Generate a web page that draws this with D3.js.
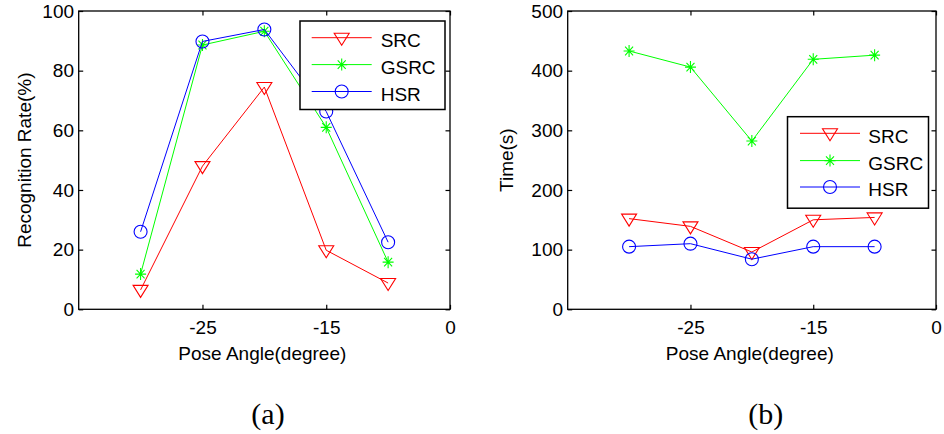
<!DOCTYPE html>
<html>
<head>
<meta charset="utf-8">
<script src="https://cdn.jsdelivr.net/npm/d3@7"></script>
<style>
  html, body { margin: 0; padding: 0; background: #fff; }
  svg { display: block; }
  text { fill: #000; }
</style>
</head>
<body>
<svg id="chart" width="944" height="434"></svg>
<script>
// ---- data ----
const seriesNames = ["SRC", "GSRC", "HSR"];
const seriesColors = ["#ff0000", "#00ff00", "#0000ff"];
const seriesMarkers = ["triangle", "star", "circle"];
const pointIndex = [1, 2, 3, 4, 5];            // sample positions on the x axis
const xTickPositions = [2, 4, 6];
const xTickLabels = ["-25", "-15", "0"];

const rateSRC  = [6.5, 48, 74.5, 19.8, 8.8];
const rateGSRC = [11.8, 88.6, 93.2, 61, 15.8];
const rateHSR  = [26, 89.8, 93.8, 66.3, 22.5];
const rateTicks = [0, 20, 40, 60, 80, 100];

const timeSRC  = [152, 139, 96, 150, 154];
const timeGSRC = [433, 406, 282, 419, 426];
const timeHSR  = [105, 110, 84, 105, 105];
const timeTicks = [0, 100, 200, 300, 400, 500];

// ---- layout ----
const svg = d3.select("#chart");
const FS = 19;
const SANS = "'Liberation Sans', Arial, sans-serif";
const SERIF = "'Liberation Serif', 'Times New Roman', serif";

const panels = [
  { x0: 78.7, x1: 450, yMax: 100, ticks: rateTicks, series: [rateSRC, rateGSRC, rateHSR],
    ylabel: "Recognition Rate(%)", ylabelX: 31, caption: "(a)", capX: 268,
    legend: { x: 300, y: 21, w: 145, h: 88.5, lineX0: 311.7, lineX1: 371.7, textX: 380.7, rows: [37.7, 64.6, 91.5] } },
  { x0: 567.7, x1: 936, yMax: 500, ticks: timeTicks, series: [timeSRC, timeGSRC, timeHSR],
    ylabel: "Time(s)", ylabelX: 513, caption: "(b)", capX: 765.7,
    legend: { x: 787.5, y: 116.7, w: 141, h: 91.5, lineX0: 800, lineX1: 860, textX: 868.3, rows: [133.3, 160.6, 187] } }
];
const yTop = 11, yBot = 309.3;

function markerPath(type) {
  if (type === "triangle") return "M-7.5,-4.5L7.5,-4.5L0,7.5Z";
  if (type === "star") return "M-5.5,0H5.5M0,-6V6M-4,-4.3L4,4.3M-4,4.3L4,-4.3";
  return null;
}
function drawMarker(g, type, color, cx, cy) {
  if (type === "circle") {
    g.append("circle").attr("cx", cx).attr("cy", cy).attr("r", 6.5)
      .attr("fill", "none").attr("stroke", color).attr("stroke-width", 1.1);
  } else {
    g.append("path").attr("d", markerPath(type))
      .attr("transform", `translate(${cx},${cy})`)
      .attr("fill", "none").attr("stroke", color).attr("stroke-width", 1.1);
  }
}

panels.forEach(p => {
  const g = svg.append("g");
  const x = d3.scaleLinear().domain([0, 6]).range([p.x0, p.x1]);
  const y = d3.scaleLinear().domain([0, p.yMax]).range([yBot, yTop]);

  // axes with inward ticks
  const tickLen = 4.5;
  const fmtX = (d, i) => xTickLabels[i];
  const axB = g.append("g").attr("transform", `translate(0,${yBot})`)
    .call(d3.axisBottom(x).tickValues(xTickPositions).tickFormat(fmtX).tickSize(-tickLen).tickPadding(11));
  const axT = g.append("g").attr("transform", `translate(0,${yTop})`)
    .call(d3.axisTop(x).tickValues(xTickPositions).tickFormat("").tickSize(-tickLen));
  const axL = g.append("g").attr("transform", `translate(${p.x0},0)`)
    .call(d3.axisLeft(y).tickValues(p.ticks).tickSize(-tickLen).tickPadding(4.7));
  const axR = g.append("g").attr("transform", `translate(${p.x1},0)`)
    .call(d3.axisRight(y).tickValues(p.ticks).tickFormat("").tickSize(-tickLen));
  [axB, axT, axL, axR].forEach(a => {
    a.select(".domain").remove();
    a.selectAll("line").attr("stroke", "#000").attr("stroke-width", 1.2);
    a.selectAll("text").attr("font-size", FS).style("font-family", SANS).attr("fill", "#000");
  });

  g.append("rect").attr("x", p.x0).attr("y", yTop).attr("width", p.x1 - p.x0).attr("height", yBot - yTop)
    .attr("fill", "none").attr("stroke", "#000").attr("stroke-width", 1.3);

  // series
  p.series.forEach((vals, si) => {
    const pts = vals.map((v, i) => [x(pointIndex[i]), y(v)]);
    g.append("path").attr("d", d3.line()(pts)).attr("fill", "none")
      .attr("stroke", seriesColors[si]).attr("stroke-width", 1);
    pts.forEach(pt => drawMarker(g, seriesMarkers[si], seriesColors[si], pt[0], pt[1]));
  });

  // labels
  g.append("text").attr("x", (p.x0 + p.x1) / 2 - 2).attr("y", 359.5).attr("text-anchor", "middle")
    .style("font-family", SANS).attr("font-size", FS).text("Pose Angle(degree)");
  g.append("text").attr("transform", `translate(${p.ylabelX},${(yTop + yBot) / 2}) rotate(-90)`)
    .attr("text-anchor", "middle").style("font-family", SANS).attr("font-size", FS).text(p.ylabel);
  g.append("text").attr("x", p.capX).attr("y", 424).attr("text-anchor", "middle")
    .style("font-family", SERIF).attr("font-size", 30)
    .text(p.caption);

  // legend
  const L = p.legend;
  g.append("rect").attr("x", L.x).attr("y", L.y).attr("width", L.w).attr("height", L.h)
    .attr("fill", "#fff").attr("stroke", "#000").attr("stroke-width", 1.5);
  seriesNames.forEach((name, si) => {
    const ly = L.rows[si];
    g.append("line").attr("x1", L.lineX0).attr("x2", L.lineX1).attr("y1", ly).attr("y2", ly)
      .attr("stroke", seriesColors[si]).attr("stroke-width", 1);
    drawMarker(g, seriesMarkers[si], seriesColors[si], (L.lineX0 + L.lineX1) / 2, ly);
    g.append("text").attr("x", L.textX).attr("y", ly + 9.3).style("font-family", SANS)
      .attr("font-size", FS).text(name);
  });
});
</script>
</body>
</html>
